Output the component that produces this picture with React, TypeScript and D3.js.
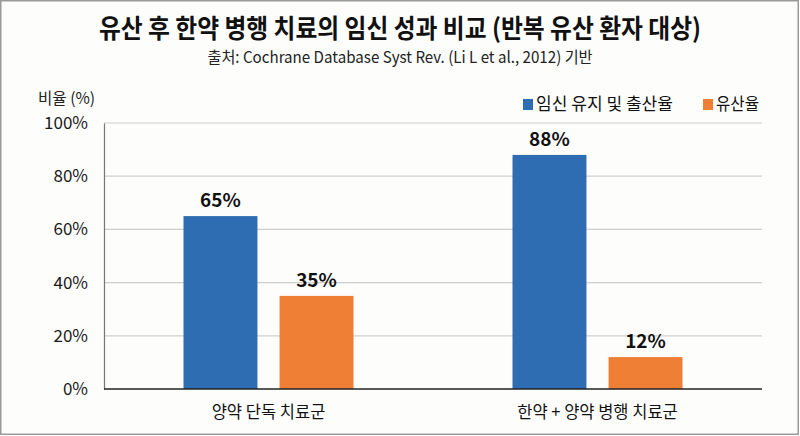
import { useEffect, useRef } from "react";
import * as d3 from "d3";

const groups = ["양약 단독 치료군", "한약 + 양약 병행 치료군"];
const seriesNames = ["임신 유지 및 출산율", "유산율"];
const birthRate = [65, 88];
const miscarriageRate = [35, 12];
const yTicks = [0, 20, 40, 60, 80, 100];

const COLORS = ["#2e6db2", "#ee7f35"];
const FONT = "'Noto Sans CJK KR', 'Noto Sans', sans-serif";
const WIDTH = 800;
const HEIGHT = 436;
const MARGIN = { top: 123, right: 38, bottom: 47, left: 104 };

export default function App() {
  const svgRef = useRef<SVGSVGElement>(null);

  useEffect(() => {
    if (!svgRef.current) return;
    const svg = d3.select(svgRef.current);
    svg.selectAll("*").remove();

    const w = WIDTH - MARGIN.left - MARGIN.right;
    const h = HEIGHT - MARGIN.top - MARGIN.bottom;

    svg
      .append("rect")
      .attr("x", 0.75)
      .attr("y", 0.75)
      .attr("width", WIDTH - 2.5)
      .attr("height", HEIGHT - 2.5)
      .attr("fill", "#fdfdfc")
      .attr("stroke", "#9a9a9a")
      .attr("stroke-width", 1.5);

    // Title + source
    svg
      .append("text")
      .attr("x", WIDTH / 2)
      .attr("y", 38)
      .attr("text-anchor", "middle")
      .attr("font-family", FONT)
      .attr("font-size", 26)
      .attr("font-weight", 700)
      .attr("fill", "#111")
      .attr("textLength", 602)
      .attr("lengthAdjust", "spacingAndGlyphs")
      .text("유산 후 한약 병행 치료의 임신 성과 비교 (반복 유산 환자 대상)");

    svg
      .append("text")
      .attr("x", WIDTH / 2)
      .attr("y", 63)
      .attr("text-anchor", "middle")
      .attr("font-family", FONT)
      .attr("font-size", 16)
      .attr("fill", "#222")
      .attr("textLength", 385)
      .attr("lengthAdjust", "spacingAndGlyphs")
      .text("출처: Cochrane Database Syst Rev. (Li L et al., 2012) 기반");

    svg
      .append("text")
      .attr("x", 38)
      .attr("y", 104)
      .attr("font-family", FONT)
      .attr("font-size", 16)
      .attr("fill", "#222")
      .attr("textLength", 57)
      .attr("lengthAdjust", "spacingAndGlyphs")
      .text("비율 (%)");

    const g = svg
      .append("g")
      .attr("transform", `translate(${MARGIN.left},${MARGIN.top})`);

    const x0 = d3.scaleBand().domain(groups).range([0, w]).paddingInner(0).paddingOuter(0);
    const x1 = d3
      .scaleBand()
      .domain(seriesNames)
      .range([79.5, x0.bandwidth() - 79.5])
      .paddingInner(0.23);
    const y = d3.scaleLinear().domain([0, 100]).range([h, 0]);

    // Grid
    g.append("g")
      .selectAll("line")
      .data(yTicks.filter((t) => t > 0))
      .join("line")
      .attr("x1", 0)
      .attr("x2", w)
      .attr("y1", (d) => y(d))
      .attr("y2", (d) => y(d))
      .attr("stroke", "#cfcfcf")
      .attr("stroke-width", 1.2);

    // Y axis
    g.append("g")
      .call(
        d3
          .axisLeft(y)
          .tickValues(yTicks)
          .tickFormat((d) => `${d}%`)
          .tickSize(0)
          .tickPadding(16)
      )
      .call((a) => a.select(".domain").attr("stroke", "#777").attr("stroke-width", 1.2))
      .call((a) =>
        a
          .selectAll(".tick text")
          .attr("font-family", FONT)
          .attr("font-size", 17)
          .attr("fill", "#1a1a1a")
      );

    const rows = groups.map((grp, i) => ({
      grp,
      vals: [birthRate[i], miscarriageRate[i]],
    }));

    const groupSel = g
      .append("g")
      .selectAll("g")
      .data(rows)
      .join("g")
      .attr("transform", (d) => `translate(${x0(d.grp)},0)`);

    groupSel
      .selectAll("rect")
      .data((d) => d.vals.map((v, j) => ({ v, name: seriesNames[j], j })))
      .join("rect")
      .attr("x", (d) => x1(d.name)!)
      .attr("y", (d) => y(d.v))
      .attr("width", x1.bandwidth())
      .attr("height", (d) => h - y(d.v))
      .attr("fill", (d) => COLORS[d.j]);

    groupSel
      .selectAll("text.val")
      .data((d) => d.vals.map((v, j) => ({ v, name: seriesNames[j] })))
      .join("text")
      .attr("class", "val")
      .attr("x", (d) => x1(d.name)! + x1.bandwidth() / 2)
      .attr("y", (d) => y(d.v) - 9)
      .attr("text-anchor", "middle")
      .attr("font-family", FONT)
      .attr("font-size", 19)
      .attr("font-weight", 700)
      .attr("fill", "#111")
      .text((d) => `${d.v}%`);

    // X axis baseline + labels
    g.append("line")
      .attr("x1", 0)
      .attr("x2", w)
      .attr("y1", h)
      .attr("y2", h)
      .attr("stroke", "#222")
      .attr("stroke-width", 1.6);

    g.append("g")
      .selectAll("text")
      .data(groups)
      .join("text")
      .attr("x", (d) => x0(d)! + x0.bandwidth() / 2)
      .attr("y", h + 29)
      .attr("text-anchor", "middle")
      .attr("font-family", FONT)
      .attr("font-size", 16.5)
      .attr("fill", "#111")
      .text((d) => d);

    // Legend
    const legendItems = [
      { name: seriesNames[0], x: 523, tw: 137 },
      { name: seriesNames[1], x: 703, tw: 43 },
    ];
    const legend = svg.append("g");
    legendItems.forEach((item, i) => {
      legend
        .append("rect")
        .attr("x", item.x)
        .attr("y", 99)
        .attr("width", 10)
        .attr("height", 11)
        .attr("fill", COLORS[i]);
      legend
        .append("text")
        .attr("x", item.x + 13)
        .attr("y", 110)
        .attr("font-family", FONT)
        .attr("font-size", 17)
        .attr("fill", "#111")
        .attr("textLength", item.tw)
        .attr("lengthAdjust", "spacingAndGlyphs")
        .text(item.name);
    });
  }, []);

  return (
    <svg
      ref={svgRef}
      width={WIDTH}
      height={HEIGHT}
      style={{ position: "fixed", left: 0, top: 0, background: "#fff" }}
    />
  );
}
